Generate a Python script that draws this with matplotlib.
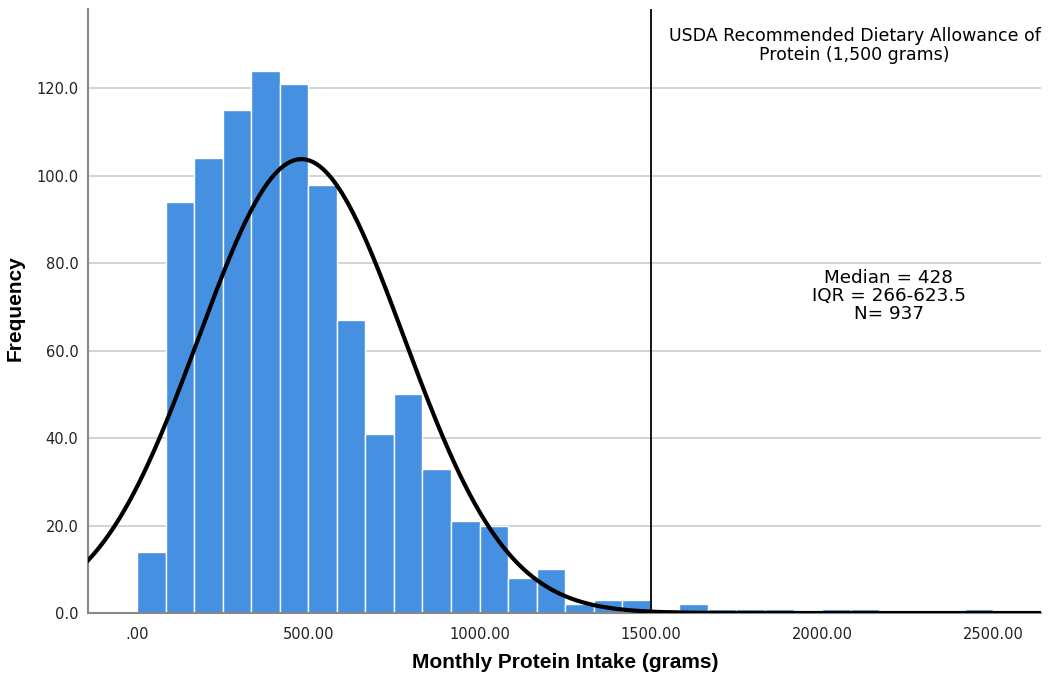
import numpy as np
import matplotlib
matplotlib.use("Agg")
import matplotlib.pyplot as plt

plt.rcParams['font.family'] = ['DejaVu Sans']

# histogram bins (width 1500/18 grams)
bin_width = 1500 / 18
counts = [14, 94, 104, 115, 124, 121, 98, 67, 41, 50, 33, 21, 20, 8, 10, 2, 3, 3,
          1, 2, 1, 1, 1, 0, 1, 1, 0, 0, 0, 1]
bin_left = [i * bin_width for i in range(len(counts))]

# fitted normal curve parameters
mean_g = 480
sd_g = 300
n_total = 937

rda = 1500
xticks = [0, 500, 1000, 1500, 2000, 2500]
xticklabels = ['.00', '500.00', '1000.00', '1500.00', '2000.00', '2500.00']
yticks = [0, 20, 40, 60, 80, 100, 120]

fig = plt.figure(figsize=(10.5, 6.8), dpi=100)
ax = fig.add_axes([0.0838, 0.0985, 0.908, 0.889])

ax.bar(bin_left, counts, width=bin_width, align='edge', color='#4590E0',
       edgecolor='white', linewidth=1.0, zorder=2)

xs = np.linspace(-150, 2650, 600)
ys = n_total * bin_width / (sd_g * np.sqrt(2 * np.pi)) * np.exp(-0.5 * ((xs - mean_g) / sd_g) ** 2)
ax.plot(xs, ys, color='black', lw=3, zorder=4)

ax.axvline(rda, color='black', lw=1.3, zorder=5)

ax.set_xlim(-143, 2640)
ax.set_ylim(0, 138.3)
ax.set_xticks(xticks)
ax.set_xticklabels(xticklabels)
ax.set_yticks(yticks)
ax.set_yticklabels([f'{v:.1f}' for v in yticks])
ax.tick_params(length=0, labelsize=10.5, colors='#222222')
ax.tick_params(axis='x', pad=10)
ax.tick_params(axis='y', pad=7)
ax.yaxis.grid(True, color='#cccccc', lw=1.2, zorder=0)
ax.set_axisbelow(True)
for s in ['top', 'right']:
    ax.spines[s].set_visible(False)
ax.spines['left'].set_color('#888888')
ax.spines['bottom'].set_color('#888888')
ax.spines['left'].set_linewidth(1.5)
ax.spines['bottom'].set_linewidth(1.5)

fig.text(565 / 1050, 1 - 662 / 680, 'Monthly Protein Intake (grams)', ha='center', va='center',
         fontsize=15, fontweight='bold', family=['Liberation Sans', 'DejaVu Sans'])
fig.text(15 / 1050, 1 - 308 / 680, 'Frequency', ha='center', va='center', rotation=90,
         fontsize=15, fontweight='bold', family=['Liberation Sans', 'DejaVu Sans'])

ax.text(2095, 129.8, 'USDA Recommended Dietary Allowance of\nProtein (1,500 grams)',
        ha='center', va='center', fontsize=12.5, linespacing=1.1)
ax.text(2194, 72.5, 'Median = 428\nIQR = 266-623.5\nN= 937',
        ha='center', va='center', fontsize=13.2, linespacing=1.0)

fig.savefig('out.png', dpi=100)
